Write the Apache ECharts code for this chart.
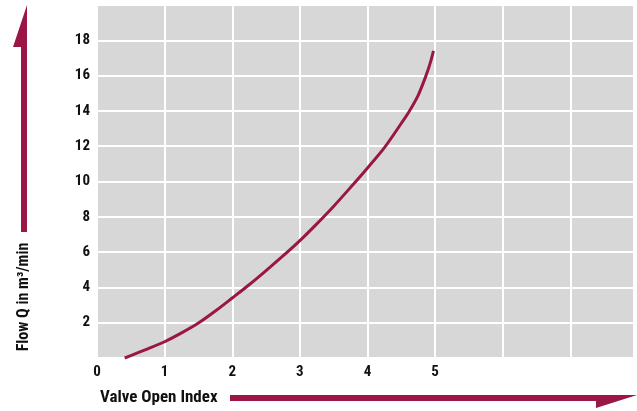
<!DOCTYPE html>
<html>
<head>
<meta charset="utf-8">
<script src="https://cdn.jsdelivr.net/npm/echarts@6/dist/echarts.min.js"></script>
<style>
html,body{margin:0;padding:0;background:#fff;}
#c{width:637px;height:411px;}
</style>
</head>
<body>
<div id="c"></div>
<script>
const valveIndex = [0.41, 0.5, 0.75, 1.0, 1.25, 1.5, 1.75, 2.0, 2.25, 2.5, 2.75, 3.0, 3.25, 3.5, 3.75, 4.0, 4.25, 4.5, 4.62, 4.75, 4.865, 4.93, 4.975];
const flowQ      = [0, 0.14, 0.52, 0.92, 1.42, 1.98, 2.66, 3.4, 4.15, 4.95, 5.78, 6.65, 7.6, 8.6, 9.67, 10.77, 11.92, 13.3, 14.0, 14.9, 16.0, 16.75, 17.4];
const xTickLabels = ['0', '1', '2', '3', '4', '5'];
const yTickLabels = ['2', '4', '6', '8', '10', '12', '14', '16', '18'];
const xTitle = 'Valve Open Index';
const yTitle = 'Flow Q in m³/min';

const FONT = "'Liberation Sans Narrow','Roboto Condensed','Arial Narrow',Roboto,sans-serif";
const RED = '#9a1646';

const chart = echarts.init(document.getElementById('c'));
chart.setOption({
  animation: false,
  grid: {left: 97, top: 5, right: 0, bottom: 53, show: true, backgroundColor: '#d7d7d7', borderWidth: 0},
  xAxis: {
    type: 'value', min: 0, max: 7.94, interval: 1,
    axisLine: {show: false}, axisTick: {show: false},
    splitLine: {show: true, lineStyle: {color: '#ffffff', width: 2}},
    axisLabel: {
      margin: 7, color: '#111', fontFamily: FONT, fontWeight: 'bold', fontSize: 15,
      formatter: v => (xTickLabels.indexOf(String(v)) >= 0 ? String(v) : '')
    }
  },
  yAxis: {
    type: 'value', min: 0, max: 20, interval: 2,
    axisLine: {show: false}, axisTick: {show: false},
    splitLine: {show: true, lineStyle: {color: '#ffffff', width: 2}},
    axisLabel: {
      margin: 7, color: '#111', fontFamily: FONT, fontWeight: 'bold', fontSize: 15,
      formatter: v => (yTickLabels.indexOf(String(v)) >= 0 ? String(v) : '')
    }
  },
  series: [{
    type: 'line', smooth: 0.3, showSymbol: false,
    lineStyle: {color: RED, width: 3},
    data: valveIndex.map((x, i) => [x, flowQ[i]])
  }],
  graphic: [
    {type: 'polygon', shape: {points: [[21, 232], [27, 232], [27, 5], [13, 47], [21, 47]]}, style: {fill: RED}},
    {type: 'text', x: 24, y: 297, rotation: Math.PI / 2,
     style: {text: yTitle, font: "bold 16px " + FONT, fill: '#111', textAlign: 'center', textVerticalAlign: 'middle'}},
    {type: 'text', x: 100, y: 398,
     style: {text: xTitle, font: "bold 17px " + FONT, fill: '#111', textAlign: 'left', textVerticalAlign: 'middle'}},
    {type: 'polygon', shape: {points: [[230, 395], [637, 395], [596, 408], [596, 401], [230, 401]]}, style: {fill: RED}}
  ]
});
</script>
</body>
</html>
